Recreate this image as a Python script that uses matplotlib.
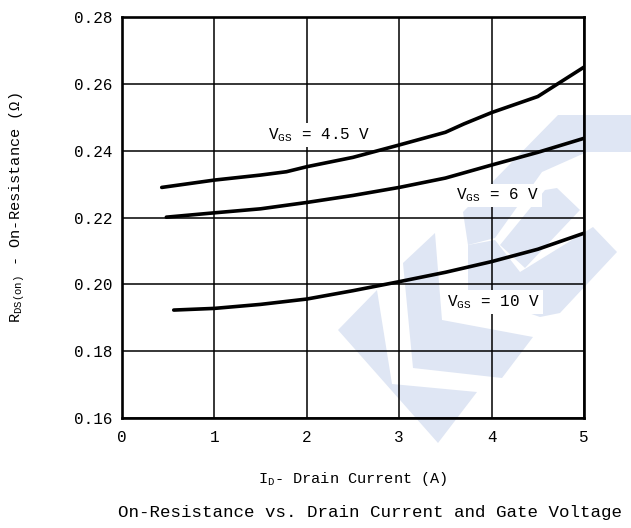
import numpy as np
import matplotlib
matplotlib.use("Agg")
import matplotlib.pyplot as plt
from matplotlib.patches import Polygon

plt.rcParams['font.family'] = ['Liberation Mono', 'DejaVu Sans']

# data
x_45 = [0.43, 1.0, 1.5, 1.78, 2.0, 2.5, 3.0, 3.5, 3.7, 4.0, 4.5, 5.0]
y_45 = [0.2290, 0.2312, 0.2327, 0.2337, 0.2352, 0.2380, 0.2417, 0.2455, 0.2480, 0.2514, 0.2562, 0.2650]
x_6 = [0.48, 1.0, 1.5, 2.0, 2.5, 3.0, 3.5, 4.0, 4.5, 5.0]
y_6 = [0.2201, 0.2214, 0.2226, 0.2245, 0.2266, 0.2290, 0.2318, 0.2357, 0.2395, 0.2437]
x_10 = [0.56, 1.0, 1.5, 2.0, 2.5, 3.0, 3.5, 4.0, 4.5, 5.0]
y_10 = [0.1923, 0.1928, 0.1940, 0.1956, 0.1981, 0.2008, 0.2036, 0.2068, 0.2105, 0.2153]
labels = ["V$\\mathregular{_{GS}}$ = 4.5 V", "V$\\mathregular{_{GS}}$ = 6 V", "V$\\mathregular{_{GS}}$ = 10 V"]
label_pos = [(2.13, 0.2447), (4.07, 0.2267), (4.02, 0.1947)]
xticks = [0, 1, 2, 3, 4, 5]
yticks = [0.16, 0.18, 0.20, 0.22, 0.24, 0.26, 0.28]

W, H = 631, 528
fig = plt.figure(figsize=(W / 100, H / 100), dpi=100)
ax = fig.add_axes([122 / W, 1 - 418 / H, 462 / W, 401 / H])
ax.set_facecolor('none')

# light blue logo watermark behind the chart (pixel outlines)
logo = [
    [(338, 330), (377, 290), (392, 384), (477, 392), (438, 443)],
    [(403, 263), (435, 233), (442, 320), (533, 337), (502, 378), (413, 368)],
    [(463, 212), (558, 115), (631, 115), (631, 152), (587, 152), (542, 172), (495, 238), (468, 245)],
    [(500, 245), (545, 190), (557, 188), (580, 210), (525, 268)],
    [(468, 245), (495, 240), (520, 272), (593, 227), (617, 252), (560, 313), (540, 317), (468, 292)],
]
for pts in logo:
    fig.patches.append(Polygon([(px / W, 1 - py / H) for px, py in pts], closed=True,
                               transform=fig.transFigure, facecolor='#dfe6f4',
                               edgecolor='none', zorder=-1))

for xs, ys in [(x_45, y_45), (x_6, y_6), (x_10, y_10)]:
    ax.plot(xs, ys, color='black', lw=2.6, solid_capstyle='round', zorder=3)

for txt, (lx, ly) in zip(labels, label_pos):
    ax.text(lx, ly, txt, ha='center', va='center', fontsize=11.5, zorder=4,
            bbox=dict(facecolor='white', edgecolor='none', pad=2))

ax.set_xlim(0, 5)
ax.set_ylim(0.16, 0.28)
ax.set_xticks(xticks)
ax.set_yticks(yticks)
ax.set_yticklabels([f"{v:.2f}" for v in yticks])
ax.grid(True, color='black', lw=1.1, zorder=1)
ax.set_axisbelow(True)
ax.tick_params(length=0, labelsize=11.5)
ax.tick_params(axis='y', pad=7)
ax.tick_params(axis='x', pad=9)
for s in ax.spines.values():
    s.set_linewidth(1.9)

ax.set_xlabel("I$\\mathregular{_D}$- Drain Current (A)", fontsize=11, labelpad=18)
ax.set_ylabel("R$\\mathregular{_{DS(on)}}$ - On-Resistance (Ω)", fontsize=11)
ax.yaxis.set_label_coords(-0.205, 0.525)
fig.text(370 / W, 1 - 512 / H, "On-Resistance vs. Drain Current and Gate Voltage",
         ha='center', va='center', fontsize=12.6)

fig.savefig("out.png", dpi=100)
